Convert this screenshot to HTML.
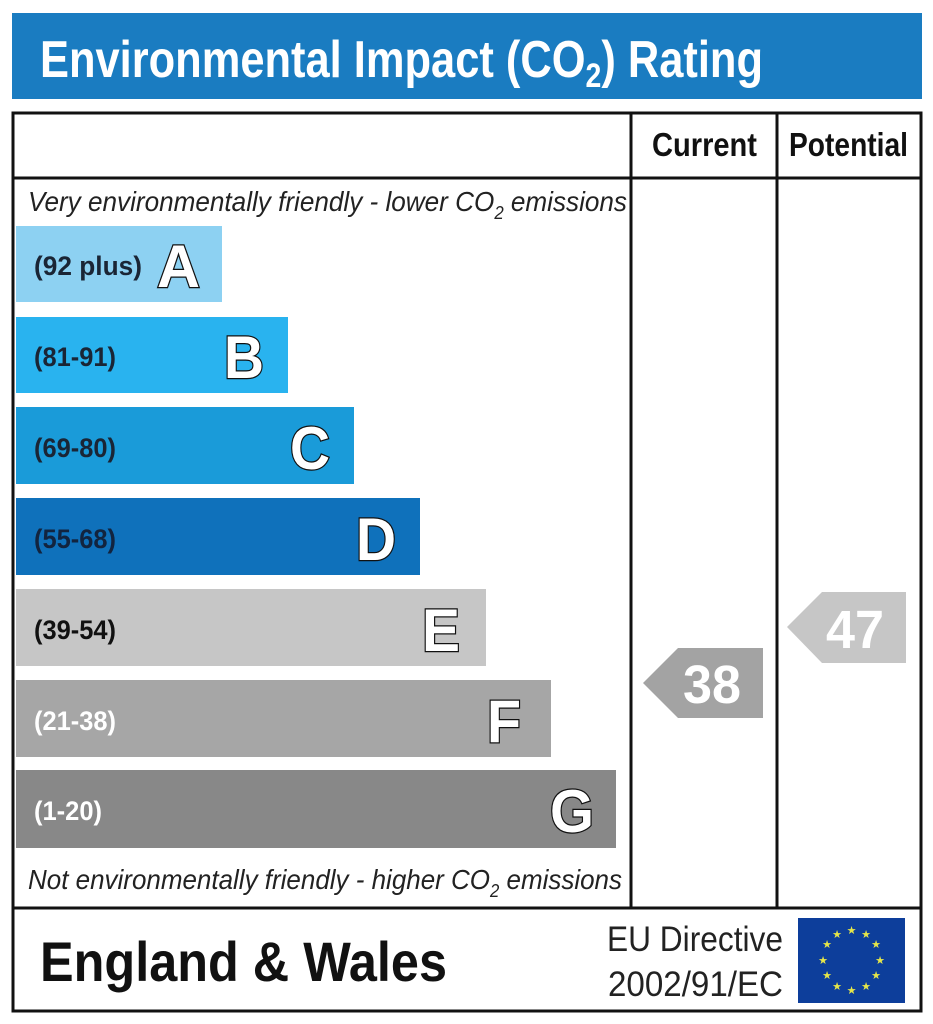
<!DOCTYPE html>
<html><head><meta charset="utf-8"><style>
html,body{margin:0;padding:0;background:#fff;}
svg{display:block;font-family:"Liberation Sans",Arial,sans-serif;}
.lt{font-weight:bold;font-size:60px;fill:#fff;stroke:#111;stroke-width:2.5px;paint-order:stroke;}
.lb{font-weight:bold;font-size:27px;}
</style></head><body>
<svg width="933" height="1024" viewBox="0 0 933 1024">
<rect x="12" y="13" width="910" height="86" fill="#1a7cc1"/>
<text x="40" y="77" font-size="52" font-weight="bold" fill="#fff" textLength="723" lengthAdjust="spacingAndGlyphs">Environmental Impact (CO<tspan font-size="34" dy="10">2</tspan><tspan dy="-10">) Rating</tspan></text>
<rect x="13" y="113" width="908" height="898" fill="none" stroke="#111" stroke-width="3"/>
<line x1="13" y1="178" x2="921" y2="178" stroke="#111" stroke-width="3"/>
<line x1="631" y1="113" x2="631" y2="908" stroke="#111" stroke-width="3"/>
<line x1="777" y1="113" x2="777" y2="908" stroke="#111" stroke-width="3"/>
<line x1="13" y1="908" x2="921" y2="908" stroke="#111" stroke-width="3"/>
<text x="652" y="156" font-size="33" font-weight="bold" fill="#111" textLength="105" lengthAdjust="spacingAndGlyphs">Current</text>
<text x="789" y="156" font-size="33" font-weight="bold" fill="#111" textLength="119" lengthAdjust="spacingAndGlyphs">Potential</text>
<text x="28" y="211" font-size="28" font-style="italic" fill="#222" textLength="599" lengthAdjust="spacingAndGlyphs">Very environmentally friendly - lower CO<tspan font-size="18" dy="8">2</tspan><tspan dy="-8"> emissions</tspan></text>
<text x="28" y="889" font-size="28" font-style="italic" fill="#222" textLength="594" lengthAdjust="spacingAndGlyphs">Not environmentally friendly - higher CO<tspan font-size="18" dy="8">2</tspan><tspan dy="-8"> emissions</tspan></text>

<rect x="16" y="226" width="206" height="76" fill="#8dd1f2"/>
<text class="lb" x="34" y="275" fill="#1a2535" textLength="108" lengthAdjust="spacingAndGlyphs">(92 plus)</text>
<text class="lt" x="157" y="287" textLength="43" lengthAdjust="spacingAndGlyphs">A</text>
<rect x="16" y="317" width="272" height="76" fill="#29b3ef"/>
<text class="lb" x="34" y="366" fill="#1a2535" textLength="82" lengthAdjust="spacingAndGlyphs">(81-91)</text>
<text class="lt" x="224" y="378" textLength="40" lengthAdjust="spacingAndGlyphs">B</text>
<rect x="16" y="407" width="338" height="77" fill="#1a9bd9"/>
<text class="lb" x="34" y="457" fill="#1a2535" textLength="82" lengthAdjust="spacingAndGlyphs">(69-80)</text>
<text class="lt" x="290" y="469" textLength="40" lengthAdjust="spacingAndGlyphs">C</text>
<rect x="16" y="498" width="404" height="77" fill="#0f71bb"/>
<text class="lb" x="34" y="548" fill="#12243f" textLength="82" lengthAdjust="spacingAndGlyphs">(55-68)</text>
<text class="lt" x="356" y="560" textLength="40" lengthAdjust="spacingAndGlyphs">D</text>
<rect x="16" y="589" width="470" height="77" fill="#c6c6c6"/>
<text class="lb" x="34" y="639" fill="#111" textLength="82" lengthAdjust="spacingAndGlyphs">(39-54)</text>
<text class="lt" x="422" y="651" textLength="38" lengthAdjust="spacingAndGlyphs">E</text>
<rect x="16" y="680" width="535" height="77" fill="#a6a6a6"/>
<text class="lb" x="34" y="730" fill="#fff" textLength="82" lengthAdjust="spacingAndGlyphs">(21-38)</text>
<text class="lt" x="487" y="742" textLength="34" lengthAdjust="spacingAndGlyphs">F</text>
<rect x="16" y="770" width="600" height="78" fill="#888888"/>
<text class="lb" x="34" y="820" fill="#fff" textLength="68" lengthAdjust="spacingAndGlyphs">(1-20)</text>
<text class="lt" x="550" y="832" textLength="44" lengthAdjust="spacingAndGlyphs">G</text>

<polygon points="643,683 678,648 763,648 763,718 678,718" fill="#a3a3a3"/>
<text x="683" y="703" font-size="54" font-weight="bold" fill="#fff" textLength="58" lengthAdjust="spacingAndGlyphs">38</text>
<polygon points="787,627 822,592 906,592 906,663 822,663" fill="#c6c6c6"/>
<text x="826" y="648" font-size="54" font-weight="bold" fill="#fff" textLength="58" lengthAdjust="spacingAndGlyphs">47</text>

<text x="40" y="981" font-size="56" font-weight="bold" fill="#111" textLength="407" lengthAdjust="spacingAndGlyphs">England &amp; Wales</text>
<text x="607" y="951" font-size="35" fill="#222" textLength="176" lengthAdjust="spacingAndGlyphs">EU Directive</text>
<text x="608" y="996" font-size="35" fill="#222" textLength="175" lengthAdjust="spacingAndGlyphs">2002/91/EC</text>
<rect x="798" y="918" width="107" height="85" fill="#0d3e9b"/>
<g fill="#e6e64a" font-size="11" text-anchor="middle">
<text x="851.5" y="934">★</text><text x="866" y="938">★</text><text x="876" y="948">★</text>
<text x="880" y="964">★</text><text x="876" y="979">★</text><text x="866" y="990">★</text>
<text x="851.5" y="994">★</text><text x="837" y="990">★</text><text x="827" y="979">★</text>
<text x="823" y="964">★</text><text x="827" y="948">★</text><text x="837" y="938">★</text>
</g>
</svg>
</body></html>
